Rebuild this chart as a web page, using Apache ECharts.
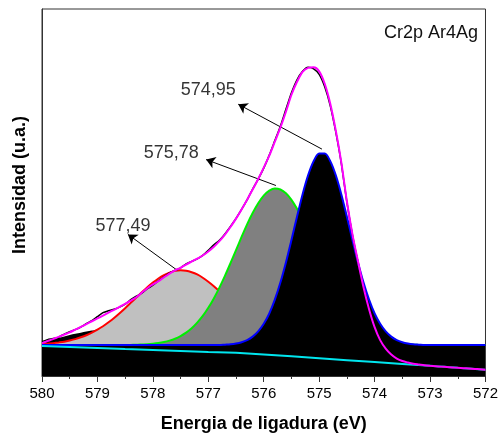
<!DOCTYPE html>
<html>
<head>
<meta charset="utf-8">
<script src="https://cdn.jsdelivr.net/npm/echarts@6/dist/echarts.min.js"></script>
<style>
  html, body { margin: 0; padding: 0; background: #fff; }
  #chart { width: 501px; height: 438px; }
</style>
</head>
<body>
<div id="chart"></div>
<script>
// Cr 2p XPS region, binding energy grid (eV)
const energy = [
  580.0, 579.9, 579.8, 579.7, 579.6, 579.5, 579.4, 579.3, 579.2, 579.1,
  579.0, 578.9, 578.8, 578.7, 578.6, 578.5, 578.4, 578.3, 578.2, 578.1,
  578.0, 577.9, 577.8, 577.7, 577.6, 577.5, 577.4, 577.3, 577.2, 577.1,
  577.0, 576.9, 576.8, 576.7, 576.6, 576.5, 576.4, 576.3, 576.2, 576.1,
  576.0, 575.9, 575.8, 575.7, 575.6, 575.5, 575.4, 575.3, 575.2, 575.1,
  575.0, 574.9, 574.8, 574.7, 574.6, 574.5, 574.4, 574.3, 574.2, 574.1,
  574.0, 573.9, 573.8, 573.7, 573.6, 573.5, 573.4, 573.3, 573.2, 573.1,
  573.0, 572.9, 572.8, 572.7, 572.6, 572.5, 572.4, 572.3, 572.2, 572.1,
  572.0
];

// Measured spectrum (counts, a.u.)
const rawCounts = [
  34.5, 36.5, 37.5, 39.0, 42.0, 44.5, 46.5, 49.0, 52.5, 55.5,
  59.5, 63.5, 65.5, 67.0, 69.0, 72.0, 76.5, 80.0, 83.0, 87.5,
  91.0, 95.5, 99.5, 103.5, 106.0, 108.5, 112.5, 115.0, 117.5, 121.0,
  126.0, 131.5, 136.0, 142.5, 150.0, 158.0, 167.0, 176.5, 187.5, 197.5,
  208.5, 221.5, 236.0, 250.5, 267.5, 284.0, 297.0, 305.5, 309.5, 308.0,
  302.5, 290.0, 271.0, 244.5, 213.0, 174.0, 141.5, 114.0, 88.5, 66.5,
  48.5, 35.5, 27.5, 21.5, 17.5, 15.0, 13.5, 12.5, 11.5, 10.8,
  10.2, 9.8, 9.5, 9.0, 8.6, 8.2, 7.9, 7.5, 7.1, 6.8,
  6.4
];

// Fit envelope
const envelope = [
  33.0, 35.0, 37.0, 39.3, 41.5, 43.8, 46.5, 49.2, 52.0, 54.9,
  57.7, 60.6, 63.5, 66.4, 69.4, 72.4, 75.6, 79.0, 83.5, 88.0,
  91.8, 95.0, 99.0, 102.7, 106.0, 108.5, 111.8, 114.7, 117.6, 120.8,
  124.8, 129.6, 135.2, 141.8, 149.4, 157.8, 167.0, 176.8, 187.0, 197.6,
  209.0, 221.0, 235.0, 249.0, 265.0, 282.0, 295.0, 305.0, 309.0, 309.5,
  305.5, 293.0, 273.0, 246.0, 214.0, 175.0, 142.0, 115.0, 89.0, 67.0,
  49.0, 36.0, 27.5, 21.5, 17.5, 15.0, 13.5, 12.3, 11.5, 10.7,
  10.2, 9.8, 9.4, 9.0, 8.6, 8.2, 7.8, 7.5, 7.1, 6.7,
  6.3
];

// Fitted components (on a common offset)
const comp57749 = [
  32.0, 32.3, 32.9, 33.6, 34.4, 35.6, 37.0, 38.8, 40.9, 43.5,
  46.5, 49.9, 53.9, 58.2, 63.0, 68.0, 73.3, 78.6, 83.9, 89.0,
  93.6, 97.8, 101.2, 103.7, 105.4, 106.0, 105.6, 104.1, 101.8, 98.5,
  94.5, 90.0, 84.9, 79.7, 74.4, 69.1, 64.0, 59.1, 54.7, 50.7,
  47.1, 44.0, 41.4, 39.0, 37.0, 35.6, 34.4, 33.6, 32.9, 32.3,
  32.0, 31.7, 31.5, 31.3, 31.2, 31.1, 31.0, 31.0, 31.0, 31.0,
  31.0, 31.0, 31.0, 31.0, 31.0, 31.0, 31.0, 31.0, 31.0, 31.0,
  31.0, 31.0, 31.0, 31.0, 31.0, 31.0, 31.0, 31.0, 31.0, 31.0,
  31.0
];
const comp57578 = [
  31.0, 31.0, 31.0, 31.0, 31.0, 31.0, 31.0, 31.0, 31.0, 31.0,
  31.0, 31.0, 31.0, 31.0, 31.0, 31.0, 31.2, 31.3, 31.6, 31.9,
  32.4, 33.1, 34.1, 35.5, 37.4, 40.1, 43.5, 47.9, 53.5, 60.2,
  68.4, 77.8, 88.6, 100.4, 113.1, 126.2, 139.4, 152.0, 163.4, 173.2,
  180.8, 185.8, 188.0, 187.0, 183.2, 176.6, 167.6, 156.7, 144.5, 131.5,
  118.3, 105.4, 93.2, 82.0, 72.0, 63.3, 56.0, 50.0, 45.1, 41.3,
  38.4, 36.2, 34.6, 33.4, 32.6, 32.0, 31.7, 31.4, 31.2, 31.0,
  31.0, 31.0, 31.0, 31.0, 31.0, 31.0, 31.0, 31.0, 31.0, 31.0,
  31.0
];
const comp57495 = [
  31.0, 31.0, 31.0, 31.0, 31.0, 31.0, 31.0, 31.0, 31.0, 31.0,
  31.0, 31.0, 31.0, 31.0, 31.0, 31.0, 31.0, 31.0, 31.0, 31.0,
  31.0, 31.0, 31.0, 31.0, 31.0, 31.0, 31.0, 31.0, 31.0, 31.0,
  31.0, 31.0, 31.0, 31.4, 31.8, 32.6, 33.9, 36.0, 39.5, 44.7,
  52.3, 62.7, 76.5, 93.7, 113.9, 136.4, 159.7, 182.1, 201.3, 215.5,
  223.0, 223.0, 215.5, 201.3, 182.1, 159.7, 136.4, 113.9, 93.7, 76.5,
  62.7, 52.3, 44.7, 39.5, 36.0, 33.9, 32.6, 31.8, 31.4, 31.0,
  31.0, 31.0, 31.0, 31.0, 31.0, 31.0, 31.0, 31.0, 31.0, 31.0,
  31.0
];

// Small high-energy tail (580 - 578.9 eV)
const tailEnergy = [580.0, 579.9, 579.8, 579.7, 579.6, 579.5, 579.4, 579.3, 579.2, 579.1, 579.0, 578.9];
const tailCounts = [34.0, 35.5, 37.0, 38.3, 39.6, 41.2, 42.3, 43.3, 44.5, 45.5, 47.0, 49.9];

// Shirley-type background
const bgEnergy = [580.0, 579.5, 579.0, 578.5, 578.0, 577.5, 577.0, 576.5, 576.0, 575.5, 575.0, 574.5, 574.0, 573.5, 573.0, 572.5, 572.0];
const bgCounts = [30.0, 29.0, 28.0, 27.0, 26.1, 25.1, 24.1, 23.2, 21.6, 19.7, 17.8, 15.9, 14.0, 12.1, 10.2, 8.2, 6.3];

// Peak positions (eV) and annotation placement
const peakCenters = [577.49, 575.78, 574.95];
const peakLabelAt = [[578.54, 150.3], [577.67, 224.0], [577.00, 287.0]];
const arrowTip = [[578.45, 142.0], [577.04, 217.0], [576.46, 272.5]];
const arrowTailShift = [[0.07, 0.0], [0.0, 3.0], [0.0, 4.5]];

const xTicks = { min: 572, max: 580, step: 1 };

const FONT = 'Liberation Sans, Arial, Helvetica, sans-serif';
const pair = (xs, ys) => xs.map((x, i) => [x, ys[i]]);
const fmt = v => v.toFixed(2).replace('.', ',');
const components = [comp57749, comp57578, comp57495];

const chart = echarts.init(document.getElementById('chart'), null, { renderer: 'canvas' });

// Arrows run from the top of each component to its label
const arrowLines = peakCenters.map((c, i) => {
  const top = Math.max.apply(null, components[i]);
  return [
    { coord: [c + arrowTailShift[i][0], top + arrowTailShift[i][1]], symbol: 'none' },
    { coord: arrowTip[i], symbol: 'arrow', symbolSize: 9 }
  ];
});

const option = {
  animation: false,
  backgroundColor: '#fff',
  grid: { left: 42, right: 12, top: 9, bottom: 61, show: true, borderColor: '#333', borderWidth: 1, backgroundColor: 'transparent' },
  xAxis: {
    type: 'value', inverse: true,
    min: xTicks.min, max: xTicks.max, interval: xTicks.step,
    name: 'Energia de ligadura (eV)', nameLocation: 'middle', nameGap: 39,
    nameTextStyle: { fontFamily: FONT, fontSize: 18, fontWeight: 'bold', color: '#000' },
    axisLine: { show: true, lineStyle: { color: '#333', width: 1 } },
    axisTick: { show: true, inside: false, length: 6, lineStyle: { color: '#333' } },
    minorTick: { show: true, splitNumber: 2, length: 3, lineStyle: { color: '#333' } },
    axisLabel: { fontFamily: FONT, fontSize: 15, color: '#000', margin: 10 },
    splitLine: { show: false }, minorSplitLine: { show: false }
  },
  yAxis: {
    type: 'value', min: 0, max: 368,
    axisLine: { show: true, lineStyle: { color: '#333', width: 1 } },
    axisTick: { show: false }, axisLabel: { show: false },
    splitLine: { show: false }
  },
  graphic: [
    { type: 'text', x: 20, y: 185, rotation: Math.PI / 2,
      style: { text: 'Intensidad (u.a.)', font: 'bold 18px ' + FONT, fill: '#000', textAlign: 'center', textVerticalAlign: 'middle' } },
    { type: 'text', x: 478, y: 33,
      style: { text: 'Cr2p Ar4Ag', font: '18px ' + FONT, fill: '#111', textAlign: 'right', textVerticalAlign: 'middle' } }
  ],
  series: [
    { name: 'tail', type: 'line', z: 2, data: pair(tailEnergy, tailCounts), showSymbol: false, smooth: 0.3,
      lineStyle: { width: 0 }, areaStyle: { color: '#000', opacity: 1 } },
    { name: fmt(peakCenters[0]), type: 'line', z: 3, data: pair(energy, comp57749), showSymbol: false, smooth: 0.3,
      lineStyle: { color: '#ff0000', width: 2 }, areaStyle: { color: '#c0c0c0', opacity: 1 } },
    { name: fmt(peakCenters[1]), type: 'line', z: 4, data: pair(energy, comp57578), showSymbol: false, smooth: 0.3,
      lineStyle: { color: '#00ee00', width: 2 }, areaStyle: { color: '#808080', opacity: 1 } },
    { name: fmt(peakCenters[2]), type: 'line', z: 5, data: pair(energy, comp57495), showSymbol: false, smooth: 0.3,
      lineStyle: { color: '#0000ff', width: 2 }, areaStyle: { color: '#000', opacity: 1 } },
    { name: 'fondo', type: 'line', z: 6, data: pair(bgEnergy, bgCounts), showSymbol: false,
      lineStyle: { color: '#00e5ee', width: 2 } },
    { name: 'datos', type: 'line', z: 7, data: pair(energy, rawCounts), showSymbol: false, smooth: 0.2,
      lineStyle: { color: '#000', width: 1.5 } },
    { name: 'envolvente', type: 'line', z: 8, data: pair(energy, envelope), showSymbol: false, smooth: 0.3,
      lineStyle: { color: '#ff00ff', width: 2 } },
    { name: 'etiquetas', type: 'scatter', z: 9, symbolSize: 0,
      data: peakLabelAt.map((p, i) => ({ value: p, name: fmt(peakCenters[i]) })),
      label: { show: true, position: 'inside', formatter: p => p.name, fontFamily: FONT, fontSize: 18, color: '#000' },
      markLine: {
        silent: true, animation: false,
        symbol: ['none', 'arrow'], symbolSize: 9,
        lineStyle: { color: '#000', width: 1, type: 'solid' },
        itemStyle: { color: '#000' },
        label: { show: false },
        data: arrowLines
      }
    }
  ]
};
chart.setOption(option);
</script>
</body>
</html>
